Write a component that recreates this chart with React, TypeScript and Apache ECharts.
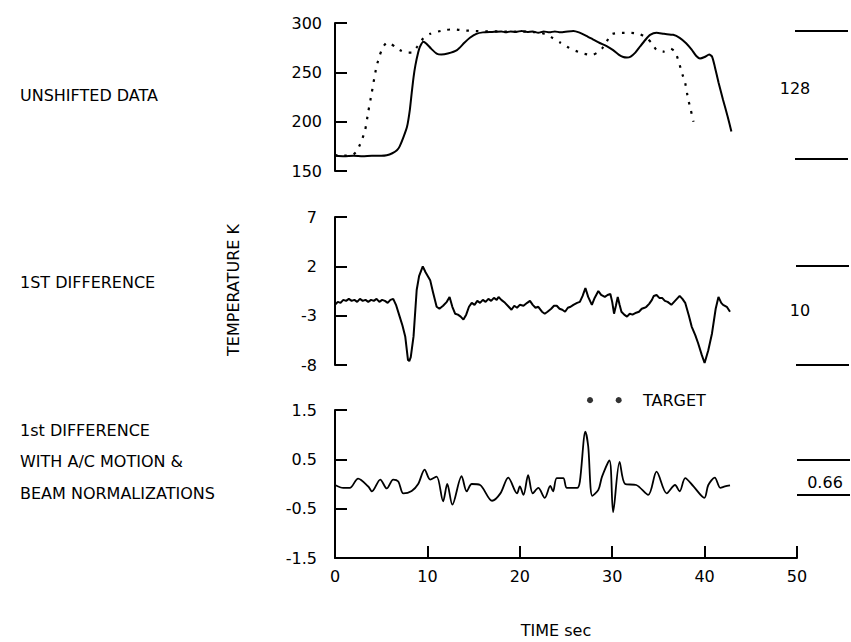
import React, { useEffect, useRef } from "react";
import * as echarts from "echarts";

const FONT = "DejaVu Sans";

// Time axis (seconds)
const timeTicks = [0, 10, 20, 30, 40, 50];

// Panel 1: unshifted data (K)
const unshiftedTicks = [150, 200, 250, 300];
const solidX = [0, 1, 2, 3, 4, 5, 5.6, 6.2, 6.7, 7.0, 7.4, 7.8, 8.1, 8.3, 8.5, 8.7, 9.0, 9.2, 9.56, 9.9, 10.4, 11.0, 11.5, 12.2, 13.2, 14.0, 14.6, 15.3, 16, 17, 18, 18.5, 19, 19.6, 20.2, 20.8, 21.4, 22, 22.6, 23.2, 23.8, 24.4, 25.2, 25.8, 26.4, 27.2, 27.9, 28.6, 29.4, 30.1, 30.7, 31.2, 31.6, 32.0, 32.5, 33, 33.6, 34.1, 34.8, 35.6, 36.6, 37.3, 38, 38.6, 39.1, 39.5, 40, 40.5, 40.8, 41.1, 41.5, 42, 42.5, 42.9];
const solidY = [165.5, 165, 165.5, 165, 165.5, 165.5, 166, 168, 171, 175, 184, 195, 212, 229, 245, 257, 270, 276, 281, 279, 274, 269, 268, 269, 272.5, 280, 285, 289, 290.5, 291, 291.5, 290.5, 291.5, 291, 292, 291, 291.5, 290, 291.5, 290.5, 291.5, 290.5, 291.5, 292, 290.5, 287, 283.5, 280, 276.5, 272.5, 268, 265.5, 265, 266, 270, 276, 283, 288, 290.2, 289, 288, 285, 279.5, 273, 266.5, 264, 265.5, 268, 266, 256, 240, 222, 205, 190];
const dottedX = [0, 0.5, 1, 1.5, 2, 2.35, 2.8, 3.25, 3.6, 3.97, 4.25, 4.5, 4.8, 5.05, 5.3, 5.6, 6.0, 6.5, 7.0, 7.7, 8.3, 8.9, 9.56, 10.3, 11, 12, 12.8, 13.9, 15, 16, 17, 18, 19, 20, 21, 22, 23, 23.6, 24.4, 25.1, 25.8, 26.9, 27.8, 28.4, 28.9, 29.4, 29.9, 31, 32, 33, 33.7, 34.3, 34.8, 35.5, 36.3, 36.8, 37.2, 37.5, 37.9, 38.2, 38.5, 38.8];
const dottedY = [165.5, 166.5, 165.5, 166, 167, 170, 179, 191, 210, 229, 244, 256, 266, 272.6, 277, 280, 279, 276, 272.6, 270, 270, 276, 284.5, 289, 291, 293, 293.6, 292.5, 292, 291.5, 291.5, 291.5, 291, 291.5, 291, 290.5, 288, 284.5, 280, 276, 272.6, 269, 267.6, 270, 274, 281, 288.6, 290, 290, 288.6, 285, 279.4, 272.6, 271, 274, 271, 261, 250.7, 239, 223.7, 212, 200];

// Panel 2: 1st difference (K)
const diffTicks = [-8, -3, 2, 7];
const diffX = [0, 0.3, 0.6, 0.9, 1.2, 1.5, 1.8, 2.1, 2.4, 2.7, 3.0, 3.3, 3.6, 3.9, 4.2, 4.5, 4.8, 5.1, 5.4, 5.7, 6.0, 6.3, 6.6, 7.0, 7.3, 7.6, 7.9, 8.04, 8.2, 8.5, 8.84, 9.1, 9.5, 9.8, 10.3, 10.6, 11.0, 11.3, 11.7, 12.1, 12.4, 12.7, 13.0, 13.3, 13.6, 13.9, 14.2, 14.5, 14.8, 15.1, 15.4, 15.7, 16, 16.3, 16.6, 16.9, 17.2, 17.5, 17.7, 18.0, 18.4, 18.8, 19.1, 19.4, 19.7, 20.0, 20.4, 20.8, 21.1, 21.4, 21.7, 22.0, 22.4, 22.7, 23.0, 23.4, 23.7, 24.0, 24.3, 24.6, 24.9, 25.2, 25.5, 25.8, 26.2, 26.5, 26.8, 27.1, 27.4, 27.8, 28.1, 28.5, 28.8, 29.2, 29.5, 29.8, 30.0, 30.2, 30.4, 30.6, 30.8, 31, 31.3, 31.6, 31.9, 32.2, 32.6, 32.9, 33.2, 33.5, 33.7, 34.0, 34.3, 34.5, 34.8, 35.1, 35.4, 35.7, 36.0, 36.4, 36.7, 37.0, 37.3, 37.6, 37.9, 38.3, 38.6, 39.0, 39.3, 39.7, 40.0, 40.4, 40.8, 41.2, 41.5, 41.8, 42.0, 42.4, 42.75];
const diffY = [-1.9, -1.6, -1.7, -1.4, -1.5, -1.3, -1.5, -1.4, -1.6, -1.3, -1.5, -1.4, -1.6, -1.4, -1.5, -1.3, -1.6, -1.4, -1.5, -1.7, -1.4, -1.3, -1.9, -3.1, -4.0, -5.1, -7.5, -7.6, -7.2, -5.1, -0.4, 1.0, 2.0, 1.4, 0.6, -0.6, -2.1, -2.3, -2.0, -1.6, -1.1, -2.1, -2.8, -2.9, -3.1, -3.4, -2.9, -2.1, -1.7, -1.9, -1.5, -1.7, -1.4, -1.6, -1.3, -1.5, -1.2, -1.4, -1.1, -1.4, -1.7, -2.1, -2.4, -2.0, -2.2, -1.9, -2.0, -1.7, -1.5, -1.9, -2.2, -2.1, -2.6, -2.8, -2.6, -2.3, -2.0, -2.0, -2.3, -2.4, -2.6, -2.2, -2.1, -1.9, -1.7, -1.6, -1.0, -0.2, -1.1, -1.9, -1.2, -0.5, -0.9, -1.1, -0.9, -0.8, -1.6, -2.8, -2.0, -1.1, -1.9, -2.6, -2.9, -3.1, -2.8, -2.9, -2.7, -2.6, -2.3, -2.2, -2.1, -1.8, -1.4, -1.0, -0.9, -1.2, -1.2, -1.5, -1.6, -1.9, -1.6, -1.3, -1.0, -1.3, -1.7, -3.0, -4.1, -5.0, -5.8, -7.0, -7.8, -6.5, -4.8, -2.3, -1.1, -1.7, -1.9, -2.1, -2.6];

// Panel 3: 1st difference with A/C motion & beam normalizations (K)
const normTicks = [-1.5, -0.5, 0.5, 1.5];
const normX = [0, 0.9, 1.6, 2.5, 3.6, 4.0, 4.9, 5.6, 6.3, 6.85, 7.4, 8.3, 9.0, 9.7, 10.3, 11.0, 11.7, 12.15, 12.7, 13.7, 14.25, 14.8, 15.7, 17.0, 17.9, 18.75, 19.7, 20.0, 20.4, 20.9, 21.4, 22.0, 22.7, 23.3, 23.6, 24.0, 24.7, 25.1, 26.2, 26.5, 27.1, 27.4, 27.85, 28.5, 28.9, 29.7, 30.1, 30.8, 31.4, 32.6, 33.9, 34.8, 35.9, 36.8, 37.3, 37.9, 38.8, 39.97, 40.4, 41.1, 41.7, 42.2, 42.75];
const normY = [-0.02, -0.08, -0.08, 0.11, -0.05, -0.15, 0.09, -0.09, 0.09, 0.05, -0.19, -0.14, 0.0, 0.29, 0.09, 0.15, -0.35, 0.0, -0.42, 0.16, -0.15, 0.0, -0.02, -0.34, -0.19, 0.13, -0.19, -0.05, -0.22, 0.18, -0.19, -0.08, -0.28, -0.04, -0.15, 0.12, 0.12, -0.08, -0.08, 0.05, 1.06, 0.77, -0.24, -0.12, 0.15, 0.48, -0.57, 0.45, 0.0, -0.02, -0.22, 0.25, -0.19, -0.02, -0.15, 0.12, -0.05, -0.28, -0.02, 0.13, -0.08, -0.05, -0.03];
const targetX = [27.6, 30.7];
const targetY = [1.7, 1.7];

const panelLabels = ["UNSHIFTED DATA", "1ST DIFFERENCE", "1st DIFFERENCE", "WITH A/C MOTION &", "BEAM NORMALIZATIONS"];
const scaleLabels = ["128", "10", "0.66"];

const zip = (xs: number[], ys: number[]) => xs.map((x, i) => [x, ys[i]]);

const yAx = (gridIndex: number, min: number, max: number, ticks: number[], margin: number) => ({
  type: "value",
  gridIndex,
  min,
  max,
  axisLine: { show: true, lineStyle: { color: "#000", width: 2 } },
  axisTick: { show: true, inside: true, length: 12, customValues: ticks, lineStyle: { color: "#000", width: 2 } },
  axisLabel: { show: true, margin, customValues: ticks, color: "#000", fontSize: 16, fontFamily: FONT },
  splitLine: { show: false },
});

const xHidden = (gridIndex: number) => ({
  type: "value",
  gridIndex,
  min: timeTicks[0],
  max: timeTicks[timeTicks.length - 1],
  show: false,
});

export default function App() {
  const ref = useRef<HTMLDivElement>(null);
  useEffect(() => {
    if (!ref.current) return;
    const chart = echarts.init(ref.current, null, { renderer: "svg" });
    const txt = (text: string, x: number, y: number, extra: any = {}) => ({
      type: "text",
      x,
      y,
      style: { text, fill: "#000", font: `16px ${FONT}`, textVerticalAlign: "middle", ...extra },
    });
    const hline = (x1: number, x2: number, y: number) => ({
      type: "line",
      shape: { x1, y1: y, x2, y2: y },
      style: { stroke: "#000", lineWidth: 2 },
    });
    chart.setOption({
      animation: false,
      backgroundColor: "#fff",
      grid: [
        { left: 335, right: 54, top: 23, height: 148 },
        { left: 335, right: 54, top: 217, height: 148 },
        { left: 335, right: 54, top: 410, height: 148 },
      ],
      xAxis: [
        xHidden(0),
        xHidden(1),
        {
          type: "value",
          gridIndex: 2,
          min: 0,
          max: 50,
          interval: 10,
          axisLine: { show: true, onZero: false, lineStyle: { color: "#000", width: 2 } },
          axisTick: { show: true, inside: true, length: 12, lineStyle: { color: "#000", width: 2 } },
          axisLabel: { margin: 10, color: "#000", fontSize: 16, fontFamily: FONT },
          splitLine: { show: false },
        },
      ],
      yAxis: [
        yAx(0, 150, 300, unshiftedTicks, 13),
        yAx(1, -8, 7, diffTicks, 18),
        yAx(2, -1.5, 1.5, normTicks, 18),
      ],
      series: [
        {
          type: "line",
          xAxisIndex: 0,
          yAxisIndex: 0,
          data: zip(solidX, solidY),
          showSymbol: false,
          smooth: 0.2,
          lineStyle: { color: "#000", width: 2 },
        },
        {
          type: "line",
          xAxisIndex: 0,
          yAxisIndex: 0,
          data: zip(dottedX, dottedY),
          showSymbol: false,
          smooth: 0.2,
          lineStyle: { color: "#000", width: 2.2, type: [2.5, 7] },
        },
        {
          type: "line",
          xAxisIndex: 1,
          yAxisIndex: 1,
          data: zip(diffX, diffY),
          showSymbol: false,
          lineStyle: { color: "#000", width: 2 },
        },
        {
          type: "line",
          xAxisIndex: 2,
          yAxisIndex: 2,
          data: zip(normX, normY),
          showSymbol: false,
          smooth: 0.3,
          lineStyle: { color: "#000", width: 1.8 },
        },
        {
          type: "scatter",
          xAxisIndex: 2,
          yAxisIndex: 2,
          data: zip(targetX, targetY),
          symbolSize: 6,
          clip: false,
          itemStyle: { color: "#000" },
        },
      ],
      graphic: [
        txt(panelLabels[0], 20, 95),
        txt(panelLabels[1], 20, 282),
        txt(panelLabels[2], 20, 430),
        txt(panelLabels[3], 20, 461),
        txt(panelLabels[4], 20, 493),
        txt("TARGET", 643, 400),
        txt("TIME sec", 556, 630, { textAlign: "center" }),
        {
          type: "text",
          x: 233,
          y: 290,
          rotation: Math.PI / 2,
          style: { text: "TEMPERATURE K", fill: "#000", font: `16px ${FONT}`, textAlign: "center", textVerticalAlign: "middle" },
        },
        hline(795, 848, 31),
        hline(795, 848, 159),
        txt(scaleLabels[0], 795, 88, { textAlign: "center" }),
        hline(796, 849, 266),
        hline(796, 849, 365),
        txt(scaleLabels[1], 800, 310, { textAlign: "center" }),
        hline(797, 850, 460),
        hline(797, 850, 495),
        txt(scaleLabels[2], 825, 482, { textAlign: "center" }),
      ],
    });
    return () => chart.dispose();
  }, []);
  return <div ref={ref} style={{ position: "absolute", left: 0, top: 0, width: 851, height: 642 }} />;
}
